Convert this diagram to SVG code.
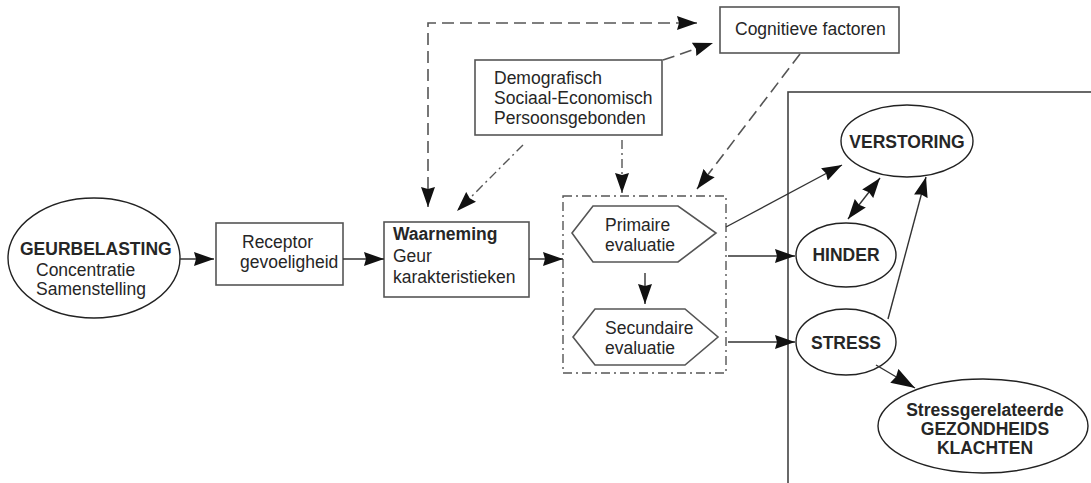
<svg xmlns="http://www.w3.org/2000/svg" width="1091" height="483" viewBox="0 0 1091 483">
<defs>
<marker id="ah" markerUnits="userSpaceOnUse" markerWidth="21" markerHeight="15" refX="20" refY="7.5" orient="auto-start-reverse" viewBox="0 0 21 15">
<path d="M0,0.5 L20,7.5 L0,14.5 L2,7.5 z" fill="#111"/>
</marker>
<marker id="ahL" markerUnits="userSpaceOnUse" markerWidth="25" markerHeight="17" refX="24" refY="8.5" orient="auto" viewBox="0 0 25 17">
<path d="M0,0.5 L24,8.5 L0,16.5 L2,8.5 z" fill="#111"/>
</marker>
</defs>
<style>
text{font-family:"Liberation Sans",Arial,sans-serif;font-size:17.5px;fill:#262626}
.b{font-weight:bold}
.shape{fill:#fff;stroke:#555;stroke-width:1.6}
.ell{fill:#fff;stroke:#222;stroke-width:1.4}
.ln{fill:none;stroke:#333;stroke-width:1.4}
.dash{fill:none;stroke:#555;stroke-width:1.6;stroke-dasharray:12 6}
.dd{fill:none;stroke:#555;stroke-width:1.4;stroke-dasharray:9 4 2 4}
</style>
<rect width="1091" height="483" fill="#fff"/>
<g id="outcome-frame"><rect x="788" y="92" width="320" height="410" fill="none" stroke="#444" stroke-width="1.6"/></g>
<g id="geurbelasting">
<ellipse class="ell" cx="94" cy="258" rx="86" ry="60"/>
<text class="b" x="20" y="255">GEURBELASTING</text>
<text x="36" y="276">Concentratie</text>
<text x="36" y="295">Samenstelling</text>
</g>
<g id="receptor">
<rect class="shape" x="216" y="223" width="127" height="62"/>
<text x="242" y="248">Receptor</text>
<text x="240" y="268">gevoeligheid</text>
</g>
<g id="waarneming">
<rect class="shape" x="384" y="222" width="145" height="75"/>
<text class="b" x="393" y="240">Waarneming</text>
<text x="393" y="262">Geur</text>
<text x="393" y="283">karakteristieken</text>
</g>
<g id="demografisch">
<rect class="shape" x="475" y="60" width="187" height="75"/>
<text x="494" y="84">Demografisch</text>
<text x="494" y="104">Sociaal-Economisch</text>
<text x="494" y="124">Persoonsgebonden</text>
</g>
<g id="cognitief">
<rect class="shape" x="720" y="7" width="179" height="46"/>
<text x="735" y="35">Cognitieve factoren</text>
</g>
<g id="evaluatie">
<rect class="dd" x="563" y="196" width="163" height="177"/>
</g>
<g id="primaire">
<polygon class="shape" points="572,233 593,206 678,206 716,233 678,262 593,262"/>
<text x="605" y="231">Primaire</text>
<text x="605" y="251">evaluatie</text>
</g>
<g id="secundaire">
<polygon class="shape" points="573,337 595,309 685,309 718,337 685,365 595,365"/>
<text x="605" y="334">Secundaire</text>
<text x="605" y="354">evaluatie</text>
</g>
<g id="verstoring">
<ellipse class="ell" cx="907" cy="141" rx="66" ry="36"/>
<text class="b" x="907" y="148" text-anchor="middle">VERSTORING</text>
</g>
<g id="hinder">
<ellipse class="ell" cx="846" cy="255" rx="50" ry="32"/>
<text class="b" x="846" y="261" text-anchor="middle">HINDER</text>
</g>
<g id="stress">
<ellipse class="ell" cx="846" cy="342" rx="50" ry="33"/>
<text class="b" x="846" y="349" text-anchor="middle">STRESS</text>
</g>
<g id="klachten">
<ellipse class="ell" cx="983" cy="426" rx="105" ry="47"/>
<text class="b" x="985" y="416" text-anchor="middle">Stressgerelateerde</text>
<text class="b" x="985" y="435" text-anchor="middle">GEZONDHEIDS</text>
<text class="b" x="985" y="454" text-anchor="middle">KLACHTEN</text>
</g>
<g id="connectors">
<line class="ln" x1="180" y1="259" x2="214" y2="259" marker-end="url(#ah)"/>
<line class="ln" x1="343" y1="259" x2="384" y2="259" marker-end="url(#ah)"/>
<line class="ln" x1="529" y1="259" x2="563" y2="259" marker-end="url(#ah)"/>
<polyline class="dash" points="428,207 428,23 697,23" marker-start="url(#ah)" marker-end="url(#ah)"/>
<line class="dash" x1="663" y1="60" x2="713" y2="43" marker-end="url(#ah)"/>
<line class="dd" x1="523" y1="145" x2="457" y2="211" marker-end="url(#ah)"/>
<line class="dd" x1="622" y1="140" x2="622" y2="193" marker-end="url(#ah)"/>
<line class="dash" x1="800" y1="54" x2="697" y2="189" marker-end="url(#ah)"/>
<line class="ln" x1="645" y1="273" x2="645" y2="304" marker-end="url(#ah)"/>
<line class="ln" x1="726" y1="227" x2="842" y2="165" marker-end="url(#ah)"/>
<line class="ln" x1="728" y1="256" x2="795" y2="256" marker-end="url(#ah)"/>
<line class="ln" x1="728" y1="342" x2="795" y2="342" marker-end="url(#ah)"/>
<line class="ln" x1="848" y1="219" x2="880" y2="178" marker-start="url(#ah)" marker-end="url(#ah)"/>
<line class="ln" x1="888" y1="319" x2="926" y2="177" marker-end="url(#ah)"/>
<line class="ln" x1="876" y1="365" x2="915" y2="388" marker-end="url(#ahL)"/>
</g>
</svg>
